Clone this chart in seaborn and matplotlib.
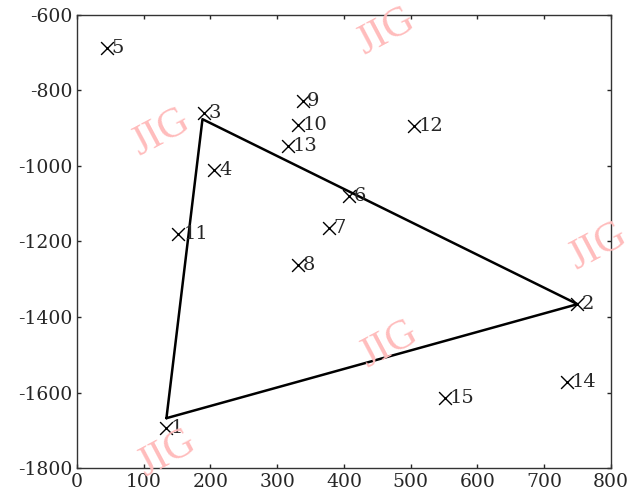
import pandas as pd
import matplotlib
matplotlib.use("Agg")
import matplotlib.pyplot as plt
import seaborn as sns

# point numbers and coordinates
point_ids = [1, 2, 3, 4, 5, 6, 7, 8, 9, 10, 11, 12, 13, 14, 15]
point_x = [134, 750, 190, 206, 45, 408, 377, 331, 338, 331, 152, 505, 316, 734, 552]
point_y = [-1695, -1366, -859, -1011, -688, -1079, -1163, -1262, -828, -891, -1181, -894, -947, -1571, -1615]

# triangle vertices (closed)
tri_x = [134, 188, 750, 134]
tri_y = [-1668, -876, -1366, -1668]

x_ticks = [0, 100, 200, 300, 400, 500, 600, 700, 800]
y_ticks = [-1800, -1600, -1400, -1200, -1000, -800, -600]

sns.set_style("ticks")
plt.rcParams['font.family'] = ['DejaVu Serif']
plt.rcParams['axes.unicode_minus'] = False

fig = plt.figure(figsize=(6.43, 4.93), dpi=100)
ax = fig.add_axes([0.1198, 0.0507, 0.8302, 0.9189])

df = pd.DataFrame({'id': point_ids, 'x': point_x, 'y': point_y})
tri = pd.DataFrame({'x': tri_x, 'y': tri_y})

sns.lineplot(data=tri, x='x', y='y', sort=False, estimator=None, color='black',
             linewidth=1.8, ax=ax)
sns.scatterplot(data=df, x='x', y='y', marker='x', s=85, color='black',
                linewidth=1.0, ax=ax, zorder=3)
for _, r in df.iterrows():
    ax.text(r['x'] + 7, r['y'], str(r['id']), fontsize=14, va='center', ha='left')

ax.set_xlim(0, 800)
ax.set_ylim(-1800, -600)
ax.set_xticks(x_ticks)
ax.set_yticks(y_ticks)
ax.set_xlabel('')
ax.set_ylabel('')
ax.tick_params(direction='in', top=True, right=True, labelsize=13.5, length=3, width=1)
for s in ax.spines.values():
    s.set_linewidth(1.0)
    s.set_color('#333333')

# watermarks
for wx, wy in [(0.25, 0.73), (0.60, 0.935), (0.605, 0.30), (0.26, 0.08), (0.93, 0.50)]:
    fig.text(wx, wy, 'JIG', fontsize=30, color='#ffbcbc', rotation=28,
             ha='center', va='center', family='Liberation Serif', zorder=0)

fig.savefig('out.png', dpi=100)
